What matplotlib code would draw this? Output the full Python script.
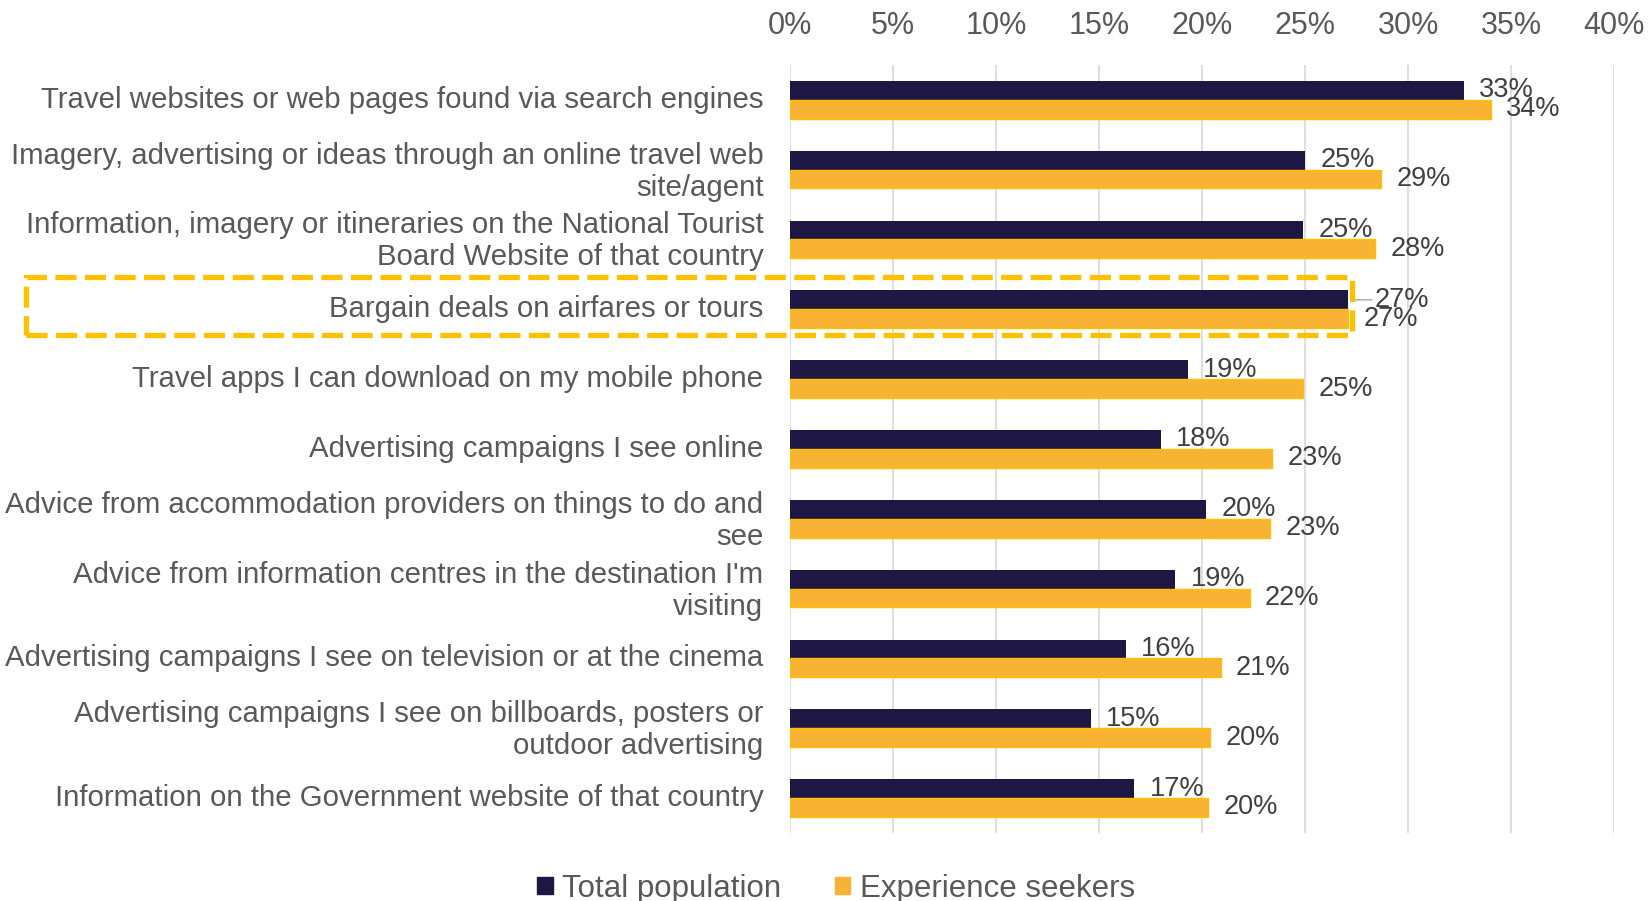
import matplotlib.pyplot as plt
import numpy as np
from matplotlib.patches import Rectangle, Patch
from matplotlib.ticker import FuncFormatter
from matplotlib.transforms import ScaledTranslation

plt.rcParams['font.family'] = ['Liberation Sans', 'DejaVu Sans']

# Sources of travel inspiration
categories = [
    'Travel websites or web pages found via search engines',
    'Imagery, advertising or ideas through an online travel web\nsite/agent',
    'Information, imagery or itineraries on the National Tourist\nBoard Website of that country',
    'Bargain deals on airfares or tours',
    'Travel apps I can download on my mobile phone',
    'Advertising campaigns I see online',
    'Advice from accommodation providers on things to do and\nsee',
    "Advice from information centres in the destination I'm\nvisiting",
    'Advertising campaigns I see on television or at the cinema',
    'Advertising campaigns I see on billboards, posters or\noutdoor advertising',
    'Information on the Government website of that country',
]

# Share of respondents (%)
total_population = [32.7, 25.0, 24.9, 27.1, 19.3, 18.0, 20.2, 18.7, 16.3, 14.6, 16.7]
experience_seekers = [34.0, 28.7, 28.4, 27.1, 24.9, 23.4, 23.3, 22.3, 20.9, 20.4, 20.3]

navy = '#1F1743'
gold = '#F8B334'
text_grey = '#595959'
label_grey = '#404040'

fig = plt.figure(figsize=(16.49, 9.01), dpi=100)
ax = fig.add_axes([0.479, 0.0755, 0.5, 0.8525])

y = np.arange(len(categories))
h = 0.27
ax.barh(y - h / 2, total_population, height=h, color=navy, label='Total population')
ax.barh(y + h / 2, experience_seekers, height=h, color=gold, edgecolor='#FFC000',
        linewidth=1, label='Experience seekers')

for i, (t, e) in enumerate(zip(total_population, experience_seekers)):
    if abs(t - e) < 0.5:
        # overlapping labels: push the upper one out with a leader line
        ax.annotate(f'{t:.0f}%', xy=(t, i - h / 2), xytext=(19, 0),
                    textcoords='offset points', va='center', fontsize=19.5,
                    color=label_grey,
                    arrowprops=dict(arrowstyle='-', color='#A6A6A6', lw=1,
                                    shrinkA=0, shrinkB=2))
    else:
        ax.annotate(f'{t:.0f}%', xy=(t, i - h / 2), xytext=(11, 0),
                    textcoords='offset points', va='center', fontsize=19.5,
                    color=label_grey)
    ax.annotate(f'{e:.0f}%', xy=(e, i + h / 2), xytext=(11, 0),
                textcoords='offset points', va='center', fontsize=19.5,
                color=label_grey)

ax.set_xlim(0, 40)
ax.set_xticks(np.arange(0, 41, 5))
ax.xaxis.set_major_formatter(FuncFormatter(lambda v, p: f'{v:.0f}%'))
ax.xaxis.tick_top()
ax.tick_params(axis='x', length=0, pad=17, labelsize=22, labelcolor=text_grey)
ax.set_ylim(len(categories) - 0.5, -0.5)
ax.set_yticks(y)
ax.set_yticklabels(categories, fontsize=21.2, color=text_grey, linespacing=1.18)
ax.tick_params(axis='y', length=0, pad=19)
shift = ScaledTranslation(0, 3 / 100, fig.dpi_scale_trans)
for lbl in ax.get_yticklabels():
    lbl.set_transform(lbl.get_transform() + shift)
ax.grid(axis='x', color='#D9D9D9', linewidth=1.2)
ax.set_axisbelow(True)
for s in ax.spines.values():
    s.set_visible(False)

# highlight box around the bargain deals row
fig.add_artist(Rectangle((0.016, 0.628), 0.804, 0.065, transform=fig.transFigure,
                         fill=False, edgecolor='#FFC000', linewidth=3.8,
                         linestyle=(0, (4, 1.6))))

handles = [Patch(color=navy), Patch(color=gold)]
fig.legend(handles, ['Total population', 'Experience seekers'], loc='lower center',
           bbox_to_anchor=(0.507, -0.034), ncol=2, frameon=False, fontsize=22.5,
           handlelength=0.5, handleheight=0.5, handletextpad=0.3,
           columnspacing=1.7, labelcolor=text_grey)

fig.savefig('out.png', dpi=100)
